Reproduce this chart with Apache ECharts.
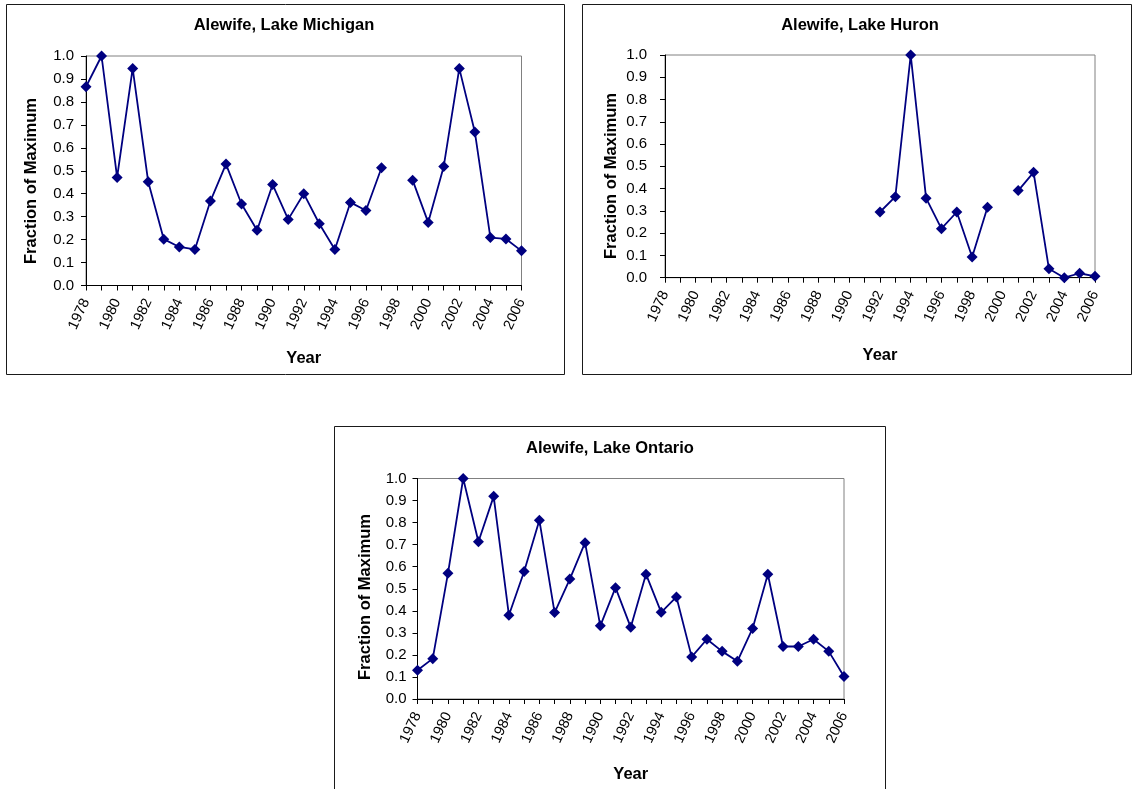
<!DOCTYPE html>
<html>
<head>
<meta charset="utf-8">
<script src="https://cdn.jsdelivr.net/npm/echarts@6/dist/echarts.min.js"></script>
<style>
  html, body { margin: 0; padding: 0; background: #fff; }
  #chart { width: 1133px; height: 789px; }
</style>
</head>
<body>
<div id="chart"></div>
<script>
// Survey years shared by all three lakes
const years = ['1978','1979','1980','1981','1982','1983','1984','1985','1986','1987',
               '1988','1989','1990','1991','1992','1993','1994','1995','1996','1997',
               '1998','1999','2000','2001','2002','2003','2004','2005','2006'];

// Alewife abundance as a fraction of each lake's maximum (null = no survey)
const michigan = [0.866, 1.0, 0.471, 0.946, 0.452, 0.202, 0.168, 0.157, 0.368, 0.529,
                  0.355, 0.241, 0.440, 0.288, 0.400, 0.269, 0.157, 0.362, 0.327, 0.513,
                  null, 0.459, 0.275, 0.519, 0.946, 0.669, 0.209, 0.203, 0.151];

const huron = [null, null, null, null, null, null, null, null, null, null,
               null, null, null, null, 0.295, 0.364, 1.0, 0.357, 0.220, 0.295,
               0.093, 0.316, null, 0.391, 0.473, 0.040, 0.0, 0.020, 0.006];

const ontario = [0.130, 0.183, 0.570, 1.0, 0.713, 0.919, 0.380, 0.578, 0.811, 0.392,
                 0.544, 0.709, 0.332, 0.505, 0.325, 0.566, 0.393, 0.463, 0.191, 0.271,
                 0.216, 0.171, 0.320, 0.566, 0.238, 0.238, 0.271, 0.216, 0.102];

const titles = ['Alewife, Lake Michigan', 'Alewife, Lake Huron', 'Alewife, Lake Ontario'];
const yName = 'Fraction of Maximum';
const xName = 'Year';

// Panel layout: outer frame, plot area, title/label anchors
const panels = [
  { data: michigan, box: [6.5, 4.5, 558, 370], grid: [86, 56, 435.5, 229.5],
    title: [284, 25], yname: [31, 181], labelGap: 12, xnameGap: 64 },
  { data: huron, box: [582.5, 4.5, 549, 370], grid: [665, 55, 430, 222.7],
    title: [860, 25], yname: [611, 176], labelGap: 18, xnameGap: 69 },
  { data: ontario, box: [334.5, 426.5, 551, 380], grid: [417.5, 478.5, 426.5, 220.5],
    title: [610, 448.5], yname: [365, 597], labelGap: 11, xnameGap: 67 }
];

const FONT = '"Liberation Sans", Arial, sans-serif';
const NAVY = '#000080';

const grids = [], xAxes = [], yAxes = [], series = [], graphics = [];

panels.forEach((p, i) => {
  graphics.push({
    type: 'rect', z: -1, silent: true,
    shape: { x: p.box[0], y: p.box[1], width: p.box[2], height: p.box[3] },
    style: { fill: '#fff', stroke: '#1a1a1a', lineWidth: 1 }
  });
  graphics.push({
    type: 'text', x: p.title[0], y: p.title[1], silent: true,
    style: { text: titles[i], font: 'bold 16.5px ' + FONT, fill: '#000',
             align: 'center', verticalAlign: 'middle' }
  });
  graphics.push({
    type: 'text', x: p.yname[0], y: p.yname[1], rotation: Math.PI / 2, silent: true,
    style: { text: yName, font: 'bold 16.5px ' + FONT, fill: '#000',
             align: 'center', verticalAlign: 'middle' }
  });

  grids.push({
    left: p.grid[0], top: p.grid[1], width: p.grid[2], height: p.grid[3],
    show: true, backgroundColor: '#fff', borderColor: '#808080', borderWidth: 1
  });

  xAxes.push({
    type: 'category', gridIndex: i, data: years, boundaryGap: false,
    name: xName, nameLocation: 'middle', nameGap: p.xnameGap,
    nameTextStyle: { fontFamily: FONT, fontSize: 16.5, fontWeight: 'bold', color: '#000' },
    axisLine: { show: true, lineStyle: { color: '#000', width: 1 } },
    axisTick: { show: true, interval: 0, length: 5, lineStyle: { color: '#000' } },
    axisLabel: { interval: 1, rotate: 65, margin: 14, fontFamily: FONT, fontSize: 14.5, color: '#000' },
    splitLine: { show: false }
  });

  yAxes.push({
    type: 'value', gridIndex: i, min: 0, max: 1, interval: 0.1,
    axisLine: { show: true, lineStyle: { color: '#000', width: 1 } },
    axisTick: { show: true, length: 5, lineStyle: { color: '#000' } },
    axisLabel: { margin: p.labelGap, fontFamily: FONT, fontSize: 15, color: '#000',
                 formatter: v => v.toFixed(1) },
    splitLine: { show: false }
  });

  series.push({
    type: 'line', xAxisIndex: i, yAxisIndex: i, data: p.data,
    connectNulls: false, symbol: 'diamond', symbolSize: 11, showAllSymbol: true,
    itemStyle: { color: NAVY },
    lineStyle: { color: NAVY, width: 1.8 }
  });
});

const chart = echarts.init(document.getElementById('chart'), null, { renderer: 'canvas' });
chart.setOption({
  animation: false,
  backgroundColor: '#fff',
  grid: grids,
  xAxis: xAxes,
  yAxis: yAxes,
  series: series,
  graphic: graphics
});
</script>
</body>
</html>
